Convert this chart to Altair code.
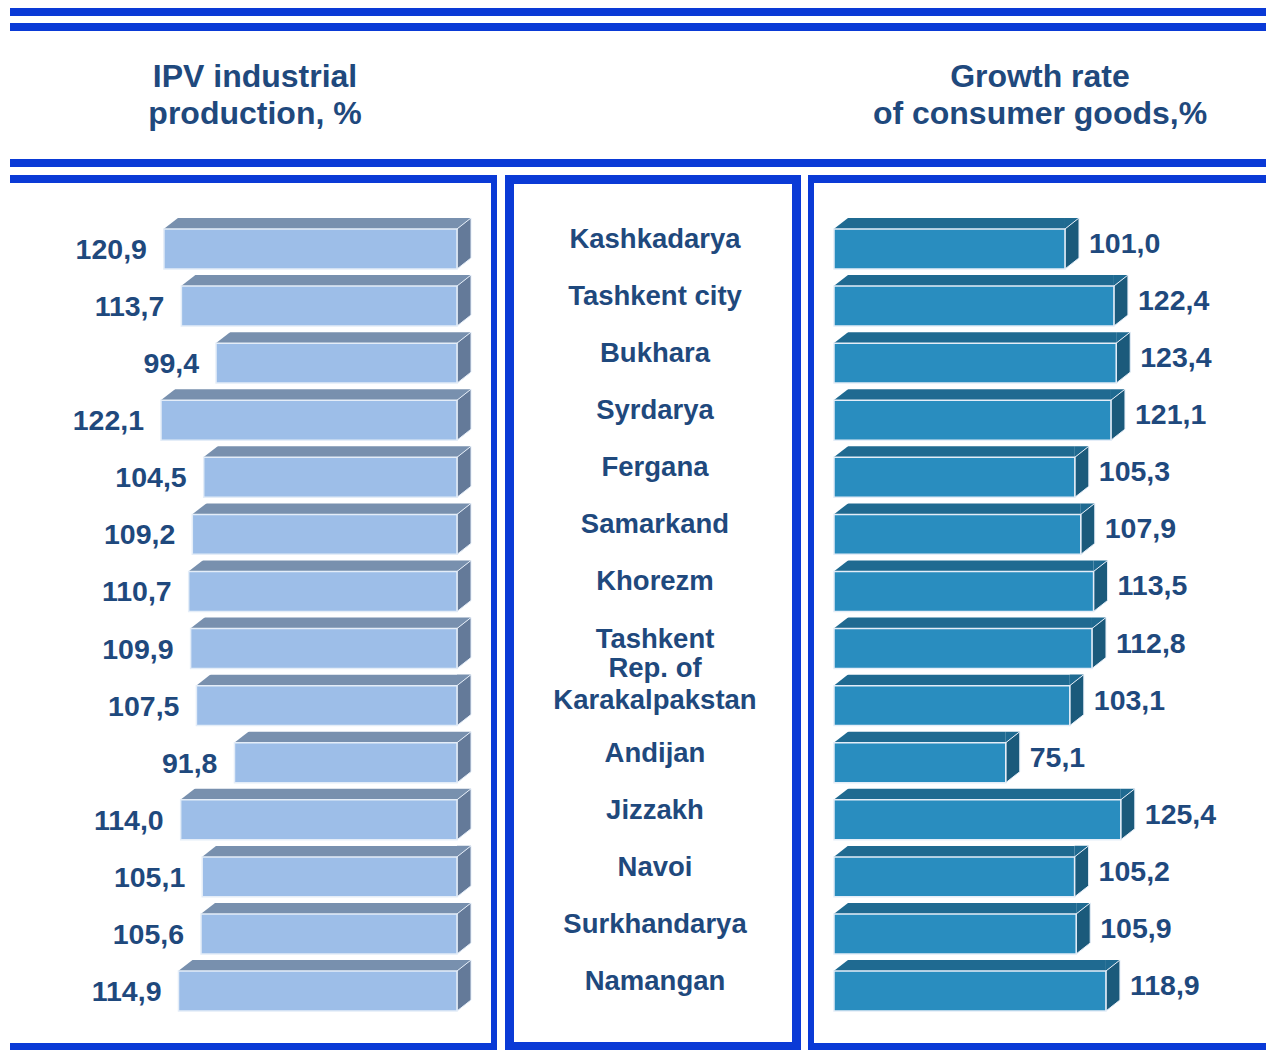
import altair as alt
import pandas as pd

# ---- data -------------------------------------------------------------
regions = [
    "Kashkadarya", "Tashkent city", "Bukhara", "Syrdarya", "Fergana",
    "Samarkand", "Khorezm", "Tashkent", "Rep. of\nKarakalpakstan", "Andijan",
    "Jizzakh", "Navoi", "Surkhandarya", "Namangan",
]
ipv_industrial = [120.9, 113.7, 99.4, 122.1, 104.5, 109.2, 110.7,
                  109.9, 107.5, 91.8, 114.0, 105.1, 105.6, 114.9]
consumer_goods = [101.0, 122.4, 123.4, 121.1, 105.3, 107.9, 113.5,
                  112.8, 103.1, 75.1, 125.4, 105.2, 105.9, 118.9]
left_title = "IPV industrial\nproduction, %"
right_title = "Growth rate\nof consumer goods,%"

df = pd.DataFrame({"region": regions, "ipv": ipv_industrial, "cons": consumer_goods})

# ---- style ------------------------------------------------------------
W, H = 1266, 1058
FONT = "Liberation Sans"
TEXT = "#1f497d"
FRAME = "#0a3ad6"
EDGE = "#e4edf8"
LEFT_FRONT, LEFT_TOP, LEFT_SIDE = "#9dbee8", "#7890ae", "#647a99"
RIGHT_FRONT, RIGHT_TOP, RIGHT_SIDE = "#298dbf", "#1f6a91", "#1b5a7b"

# 3D caps as custom symbols (unit = 40 px at size 6400); depth 14 px right, 11 px up
CAP = 6400
SIDE_FACE = "M0,-0.5L0.35,-0.775L0.35,0.225L0,0.5Z"
TOP_CORNER = "M0,-0.5L0,-0.775L0.35,-0.775Z"
CUT_CORNER = "M-0.03,-0.8L0.382,-0.8L-0.03,-0.48Z"

step = 57.08
y_scale = alt.Scale(domain=regions, range=[229 - 0.15 * step, 229 - 0.15 * step + 14 * step],
                    paddingInner=0.3, paddingOuter=0.15)
Y = alt.Y("region:N", sort=regions, scale=y_scale, axis=None)

left_scale = alt.Scale(domain=[0, 130], range=[457, 457 - 130 * 2.424], nice=False)
right_scale = alt.Scale(domain=[0, 130], range=[834, 834 + 130 * 2.287], nice=False)

label_expr = "replace(format({f}, '.1f'), '.', ',')"


def bars3d(field, scale, front, top, side, left_to_right):
    """A row of extruded bars drawn on one x scale."""
    X = alt.X(f"{field}:Q", scale=scale, axis=None)
    XB = alt.X("base:Q", scale=scale, axis=None)
    X2B = alt.X2("base:Q")
    # the cap with the side face sits at the right end of each bar
    cap_x = X if left_to_right else XB
    start_x = XB if left_to_right else X
    base = alt.Chart(df).transform_calculate(base="0")
    back = base.mark_bar(color=top, yOffset=-11).encode(x=X, x2=X2B, y=Y)
    cut = base.mark_point(shape=CUT_CORNER, size=CAP, filled=True, color="white",
                          opacity=1, strokeWidth=0).encode(x=start_x, y=Y)
    corner = base.mark_point(shape=TOP_CORNER, size=CAP, filled=True, color=top,
                             opacity=1, strokeWidth=0).encode(x=cap_x, y=Y)
    side_face = base.mark_point(shape=SIDE_FACE, size=CAP, filled=True, color=side,
                                opacity=1, stroke=EDGE, strokeWidth=1).encode(x=cap_x, y=Y)
    face = base.mark_bar(color=front, stroke=EDGE, strokeWidth=1.5).encode(x=X, x2=X2B, y=Y)
    if left_to_right:
        labels = base.mark_text(align="left", baseline="middle", dx=24, dy=-5, font=FONT,
                                fontSize=28.5, fontWeight="bold", color=TEXT)
    else:
        labels = base.mark_text(align="right", baseline="middle", dx=-17, dy=1, font=FONT,
                                fontSize=28.5, fontWeight="bold", color=TEXT)
    labels = labels.transform_calculate(
        label=label_expr.format(f=f"datum.{field}")
    ).encode(x=X, y=Y, text="label:N")
    return alt.layer(back, cut, corner, side_face, face, labels)


one = alt.Data(values=[{}])


def band(x, x2, y, y2):
    return alt.Chart(one).mark_rect(color=FRAME).encode(
        x=alt.value(x), x2=alt.value(x2), y=alt.value(y), y2=alt.value(y2))


decor = [
    # header rules
    band(10, W, 8, 16), band(10, W, 23, 31), band(10, W, 159, 167),
    # left panel frame
    band(10, 497, 175, 183), band(491, 497, 175, 1050), band(10, 497, 1043, 1050),
    # middle panel frame
    band(505, 801, 175, 184), band(505, 514, 175, 1050),
    band(792, 801, 175, 1050), band(505, 801, 1042, 1050),
    # right panel frame
    band(808, W, 175, 183), band(808, 814, 175, 1050), band(808, W, 1043, 1050),
]


def title(text, x):
    # first line is anchored at y, further lines follow below
    return alt.Chart(one).mark_text(
        align="center", baseline="middle", lineBreak="\n", lineHeight=37,
        font=FONT, fontSize=32, fontWeight="bold", color=TEXT, text=text,
    ).encode(x=alt.value(x), y=alt.value(77))


# region names: one-line names sit just above the bar centre,
# two-line names are lifted so the block is centred on the row
nlines = "length(split(datum.region, '\\n'))"
name_style = dict(align="center", baseline="middle", lineBreak="\n", lineHeight=32,
                  font=FONT, fontSize=27.5, fontWeight="bold", color=TEXT)
names_single = alt.Chart(df).transform_calculate(n=nlines).transform_filter(
    "datum.n == 1").mark_text(dy=-9, **name_style).encode(
    x=alt.value(655), y=Y, text="region:N")
names_multi = alt.Chart(df).transform_calculate(n=nlines).transform_filter(
    "datum.n > 1").mark_text(dy=-37, **name_style).encode(
    x=alt.value(655), y=Y, text="region:N")

left_bars = bars3d("ipv", left_scale, LEFT_FRONT, LEFT_TOP, LEFT_SIDE, False)
right_bars = bars3d("cons", right_scale, RIGHT_FRONT, RIGHT_TOP, RIGHT_SIDE, True)

chart = alt.layer(
    *decor,
    title(left_title, 255),
    title(right_title, 1040),
    left_bars,
    right_bars,
    names_single,
    names_multi,
).resolve_scale(x="independent").properties(
    width=W, height=H, padding=0,
    autosize=alt.AutoSizeParams(type="none"),
    background="white",
).configure_view(strokeWidth=0)

chart.save("out.html", embed_options={"renderer": "svg", "actions": False})
